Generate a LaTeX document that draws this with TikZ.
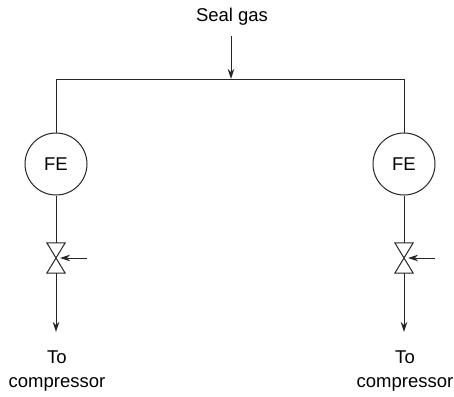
\documentclass[tikz,border=0pt]{standalone}
\usepackage{fontspec}
\setmainfont{Liberation Sans}
\usetikzlibrary{arrows.meta}
\begin{document}
\begin{tikzpicture}[
    x=1pt, y=-1pt,
    pipe/.style={black!85, line width=1pt},
    flow/.style={pipe, -{Stealth[length=10pt, width=6.5pt]}},
    meter/.style={circle, draw=black!85, line width=1pt, minimum size=62pt, inner sep=0pt, font=\fontsize{18.5}{24}\selectfont},
    valve/.style={rectangle, minimum width=18pt, minimum height=30pt, inner sep=0pt},
    label/.style={align=center, font=\fontsize{18.5}{24.5}\selectfont}
]
    \useasboundingbox (0,0) rectangle (454,396);

    \node[label] (seal) at (232,17) {Seal gas};
    \coordinate (feed) at (231,36);
    \coordinate (tee) at (231,79);
    \coordinate (cornerL) at (56,79);
    \coordinate (cornerR) at (404,79);

    \node[meter] (feL) at (56,164) {FE};
    \node[meter] (feR) at (404,164) {FE};
    \node[valve] (valveL) at (56,258) {};
    \node[valve] (valveR) at (404,258) {};

    \coordinate (signalL) at (87,258);
    \coordinate (signalR) at (435,258);
    \coordinate (outL) at (56,332);
    \coordinate (outR) at (404,332);

    \node[label] (toL) at (57,371) {To\\compressor};
    \node[label] (toR) at (405,371) {To\\compressor};

    \draw[pipe] (feL.north) -- (cornerL) -- (cornerR) -- (feR.north);
    \draw[flow] (feed) -- (tee);

    \draw[pipe] (feL.south) -- (valveL.north);
    \draw[pipe] (feR.south) -- (valveR.north);
    \draw[pipe, line join=miter] (valveL.north west) -- (valveL.south east) -- (valveL.south west) -- (valveL.north east) -- cycle;
    \draw[pipe, line join=miter] (valveR.north west) -- (valveR.south east) -- (valveR.south west) -- (valveR.north east) -- cycle;

    \draw[flow, shorten >=4pt] (signalL) -- (valveL.center);
    \draw[flow, shorten >=4pt] (signalR) -- (valveR.center);
    \draw[flow] (valveL.south) -- (outL);
    \draw[flow] (valveR.south) -- (outR);
\end{tikzpicture}
\end{document}
